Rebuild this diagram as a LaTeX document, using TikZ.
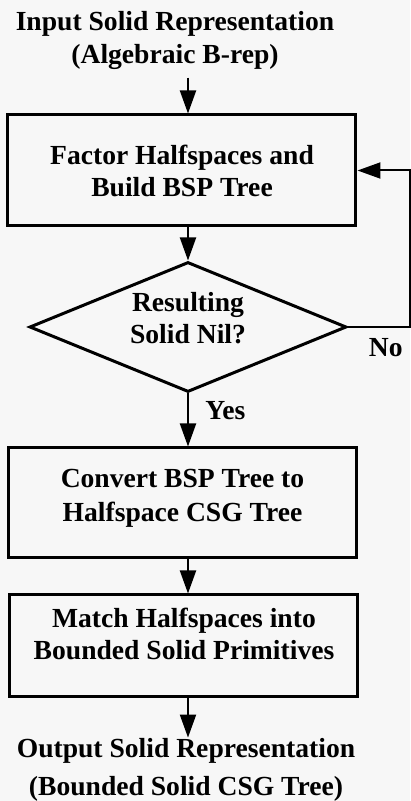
\documentclass[tikz,border=0pt]{standalone}
\usepackage{fontspec}
\setmainfont{Liberation Serif}
\usetikzlibrary{arrows.meta,positioning,shapes.geometric}

\begin{document}
\begin{tikzpicture}[x=0.5pt,y=-0.5pt,
    font=\bfseries\fontsize{13.8}{16}\selectfont,
    stepbox/.style={draw,line width=1.5pt,minimum width=174pt,align=center,inner sep=0pt},
    test/.style={draw,diamond,aspect=2.44,line width=1.5pt,minimum width=158.5pt,minimum height=65pt,align=center,inner sep=0pt},
    tag/.style={inner sep=0pt,align=center},
    flow/.style={line width=1pt,-{Triangle[length=11.5pt,width=8pt]}}]
  \fill[black!3] (0,0) rectangle (410,801);
  %
  \node[tag,font=\bfseries\fontsize{13.8}{16.5}\selectfont] (in) at (175,40) {Input Solid Representation\\(Algebraic B-rep)};
  \node[stepbox,minimum height=55.5pt] (fac) at (182,170.5) {Factor Halfspaces and\\Build BSP Tree};
  \node[test,text depth=9pt] (dec) at (188,327) {Resulting\\Solid Nil?};
  \node[stepbox,minimum height=55pt,text depth=8pt,font=\bfseries\fontsize{13.8}{17}\selectfont] (conv) at (182.5,503) {Convert BSP Tree to\\Halfspace CSG Tree};
  \node[stepbox,minimum height=51pt,text depth=12pt] (match) at (184,646) {Match Halfspaces into\\Bounded Solid Primitives};
  \node[tag,font=\bfseries\fontsize{13.8}{19}\selectfont] (out) at (186,769.5) {Output Solid Representation\\(Bounded Solid CSG Tree)};
  \coordinate (turn) at ([xshift=31pt]dec.east);
  \node[tag,below left=5.5pt and 3.5pt of turn] (no) {No};
  \node[tag,below right=4pt and 8.5pt of dec.south] (yes) {Yes};
  %
  \draw[flow,shorten <=4pt] (in.south -| dec) -- (fac.north -| dec);
  \draw[flow] (fac.south -| dec) -- (dec.north);
  \draw[flow] (dec.south) -- (conv.north -| dec);
  \draw[flow] (conv.south -| dec) -- (match.north -| dec);
  \draw[flow] (match.south -| dec) -- (out.north -| dec);
  \draw[flow] (dec.east) -- (turn) |- (fac.east);
\end{tikzpicture}
\end{document}
